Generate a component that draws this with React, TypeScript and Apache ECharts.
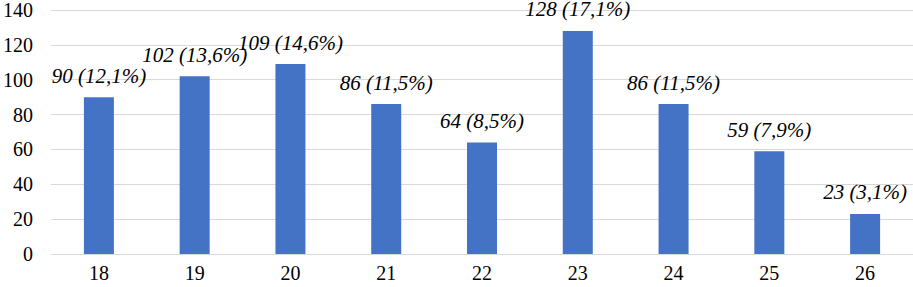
import React, { useEffect, useRef } from "react";
import * as echarts from "echarts";

const categories = ["18", "19", "20", "21", "22", "23", "24", "25", "26"];
const values = [90, 102, 109, 86, 64, 128, 86, 59, 23];
const percents = ["12,1", "13,6", "14,6", "11,5", "8,5", "17,1", "11,5", "7,9", "3,1"];

const FONT = "Liberation Serif";

function buildOption() {
  return {
    animation: false,
    textStyle: { fontFamily: FONT },
    grid: { left: 49, right: -3, top: 8, bottom: 33 },
    xAxis: {
      type: "category",
      data: categories,
      axisLine: { show: true, lineStyle: { color: "#d9d9d9", width: 1 } },
      axisTick: { show: false },
      axisLabel: { color: "#000", fontFamily: FONT, fontSize: 20, margin: 9 },
    },
    yAxis: {
      type: "value",
      min: 0,
      max: 140,
      interval: 20,
      axisLine: { show: false },
      axisTick: { show: false },
      splitLine: { lineStyle: { color: "#d9d9d9", width: 1 } },
      axisLabel: { color: "#000", fontFamily: FONT, fontSize: 20, margin: 18 },
    },
    series: [
      {
        type: "bar",
        data: values,
        barWidth: 30,
        itemStyle: { color: "#4472C4" },
        label: {
          show: true,
          position: "top",
          distance: 11,
          color: "#000",
          fontFamily: FONT,
          fontStyle: "italic",
          fontSize: 21,
          formatter: (p: any) => `${p.value} (${percents[p.dataIndex]}%)`,
        },
      },
    ],
  };
}

export default function App() {
  const ref = useRef<HTMLDivElement>(null);
  useEffect(() => {
    if (!ref.current) return;
    const chart = echarts.init(ref.current, null, { renderer: "svg" });
    chart.setOption(buildOption());
    const t = setTimeout(() => {
      const d = document.createElement("pre");
      d.style.cssText =
        "position:fixed;left:900px;top:275px;font-size:8px;color:#fff;margin:0;pointer-events:none";
      d.textContent = ".";
      document.body.appendChild(d);
    }, 50);
    return () => {
      clearTimeout(t);
      chart.dispose();
    };
  }, []);
  return (
    <div>
      <div
        ref={ref}
        style={{ position: "fixed", left: 0, top: 0, width: 913, height: 287, background: "#fff" }}
      />
      <span
        style={{
          position: "fixed",
          left: 2,
          top: 272,
          fontFamily: "'Liberation Serif'",
          fontSize: 8,
          color: "#fff",
          pointerEvents: "none",
        }}
      >
        . <i>.</i>
      </span>
    </div>
  );
}
